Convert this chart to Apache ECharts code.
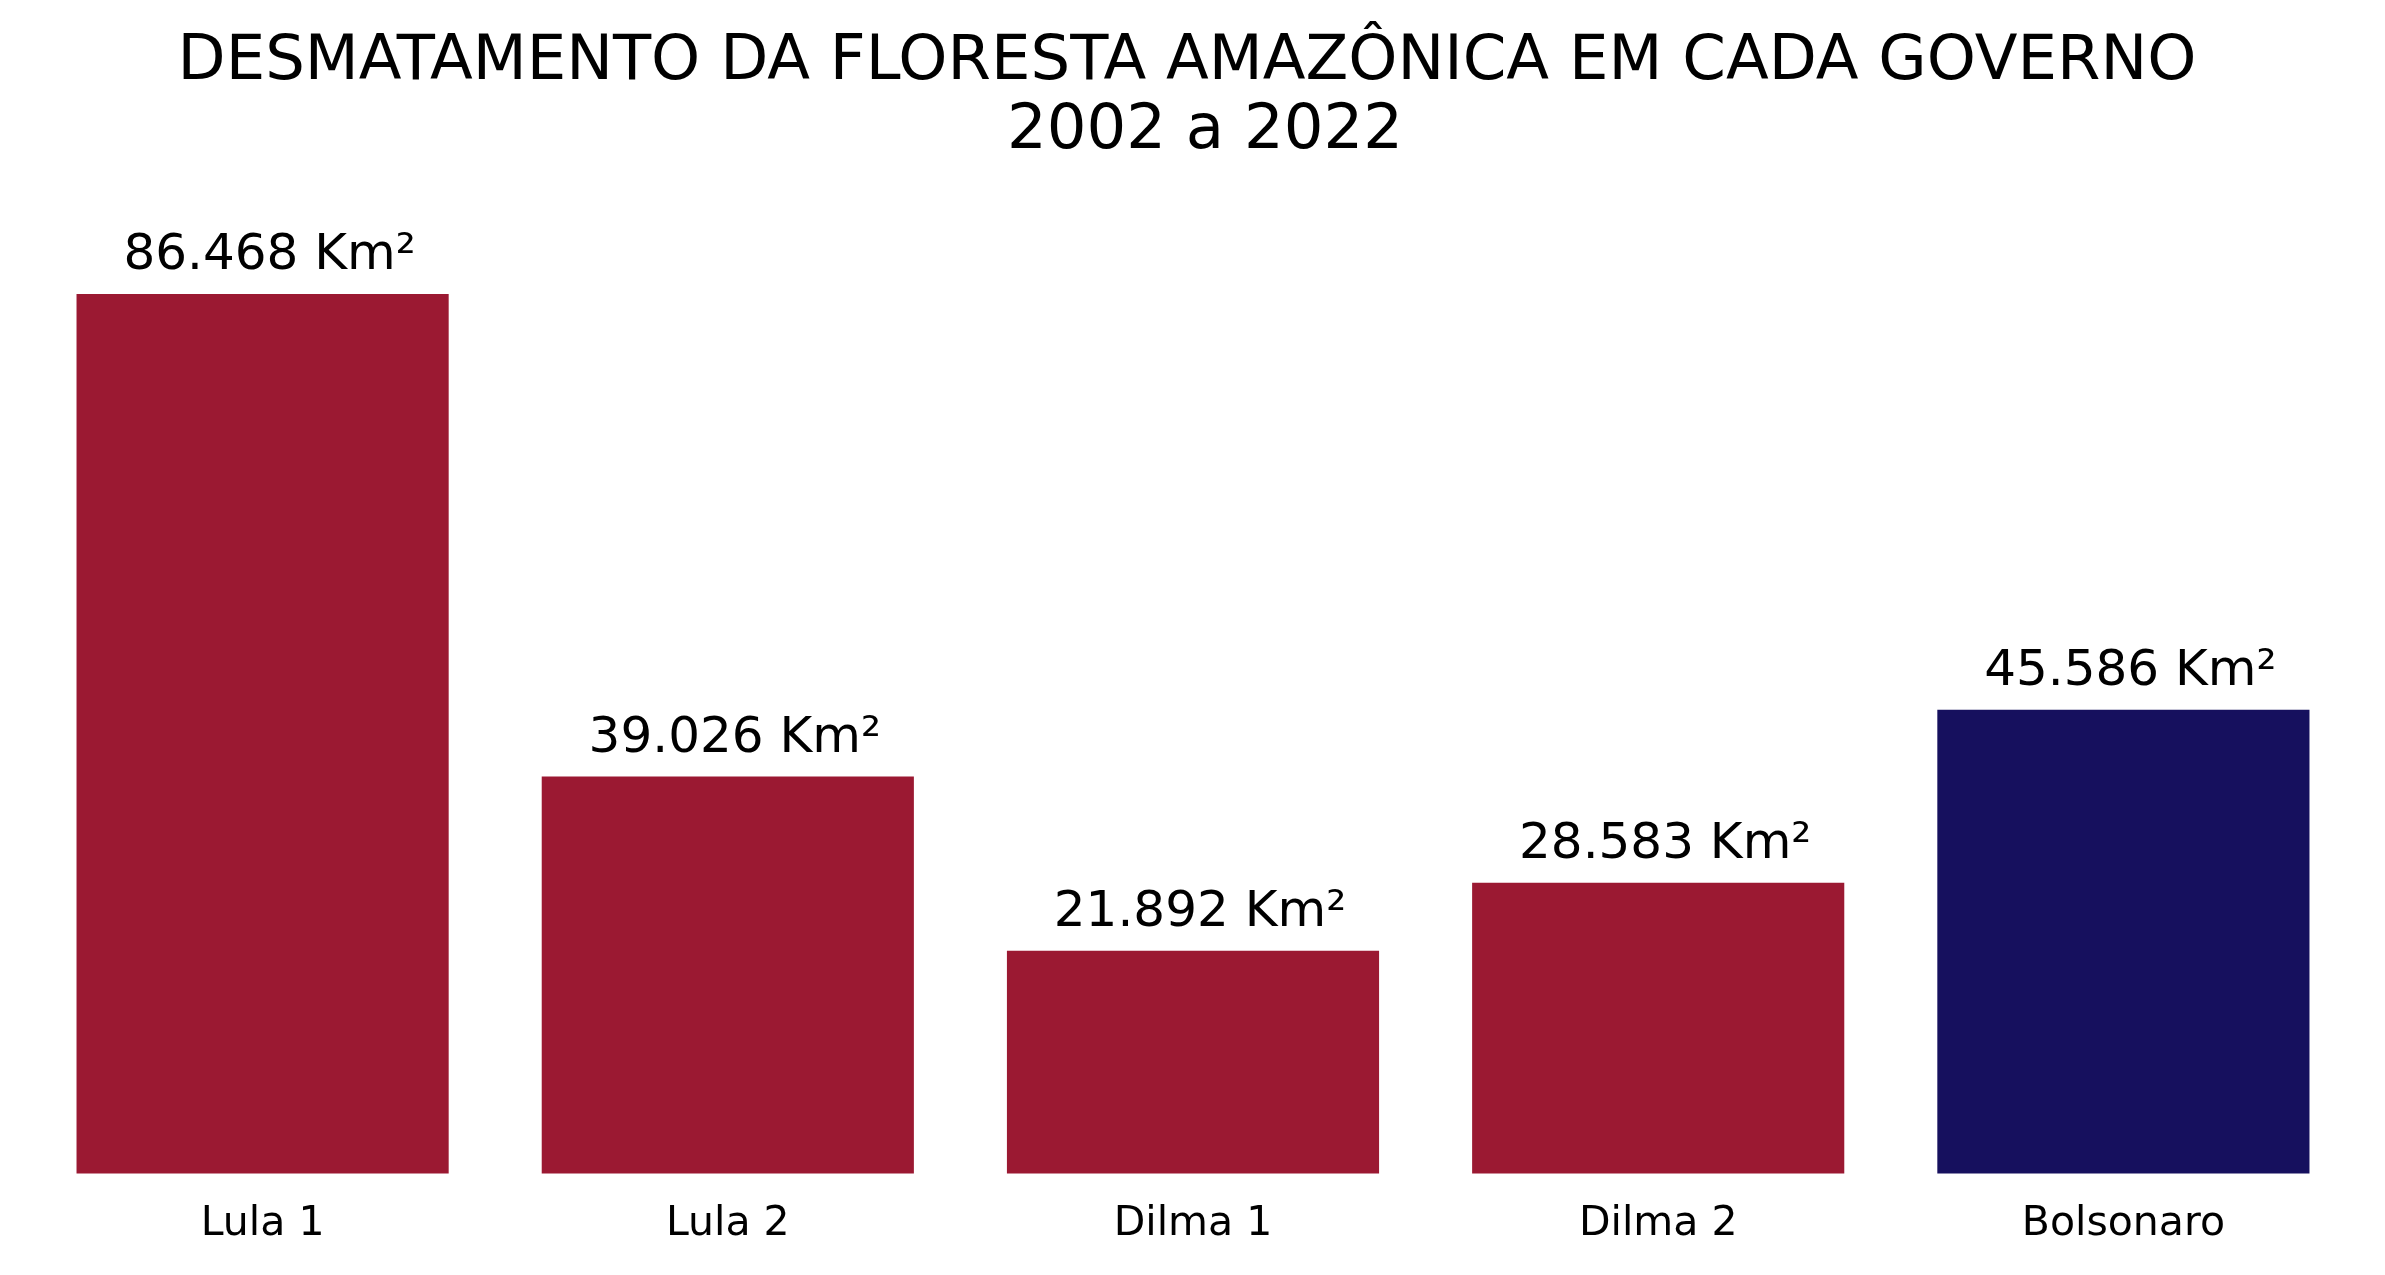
<!DOCTYPE html>
<html>
<head>
<meta charset="utf-8">
<script src="https://cdn.jsdelivr.net/npm/echarts@6/dist/echarts.min.js"></script>
<style>
	html, body { margin: 0; padding: 0; background: #fff; }
	#chart { width: 2385px; height: 1275px; }
</style>
</head>
<body>
<div id="chart"></div>
<script>
// governos e área desmatada (km²)
var governos = ['Lula 1', 'Lula 2', 'Dilma 1', 'Dilma 2', 'Bolsonaro'];
var desmatamento = [86468, 39026, 21892, 28583, 45586];
var cores = ['#9b1932', '#9b1932', '#9b1932', '#9b1932', '#16105e'];
var titulo = 'DESMATAMENTO DA FLORESTA AMAZÔNICA EM CADA GOVERNO';
var periodo = '2002 a 2022';

function fmt(v) {
	return String(v).replace(/\B(?=(\d{3})+(?!\d))/g, '.') + ' Km²';
}

var myChart = echarts.init(document.getElementById('chart'));

var dados = [];
for (var i = 0; i < desmatamento.length; i++) {
	dados.push({ value: desmatamento[i], itemStyle: { color: cores[i] } });
}

var estiloTitulo = {
	fontFamily: 'DejaVu Sans',
	fontSize: 62.5,
	fontWeight: 'normal',
	color: '#000',
	lineHeight: 69
};

var option = {
	backgroundColor: '#ffffff',
	animation: false,
	title: [{
		text: titulo,
		left: 1182,
		textAlign: 'center',
		top: 23,
		textStyle: estiloTitulo
	}, {
		text: periodo,
		left: 1200,
		textAlign: 'center',
		top: 92,
		textStyle: estiloTitulo
	}],
	grid: {
		left: 30,
		right: 29,
		top: 250,
		bottom: 101.5,
		containLabel: false
	},
	xAxis: {
		type: 'category',
		data: governos,
		axisLine: { show: false },
		axisTick: { show: false },
		axisLabel: {
			fontFamily: 'DejaVu Sans',
			fontSize: 41,
			lineHeight: 41,
			color: '#000',
			margin: 30
		}
	},
	yAxis: {
		type: 'value',
		min: 0,
		max: function (v) { return v.max * 1.05; },
		show: false,
		splitLine: { show: false }
	},
	series: [{
		type: 'bar',
		barCategoryGap: '20%',
		data: dados,
		label: {
			show: true,
			position: 'top',
			distance: 13,
			offset: [7, 0],
			fontFamily: 'DejaVu Sans',
			fontSize: 50,
			lineHeight: 50,
			color: '#000',
			formatter: function (p) { return fmt(p.value); }
		}
	}]
};
myChart.setOption(option);
</script>
</body>
</html>
